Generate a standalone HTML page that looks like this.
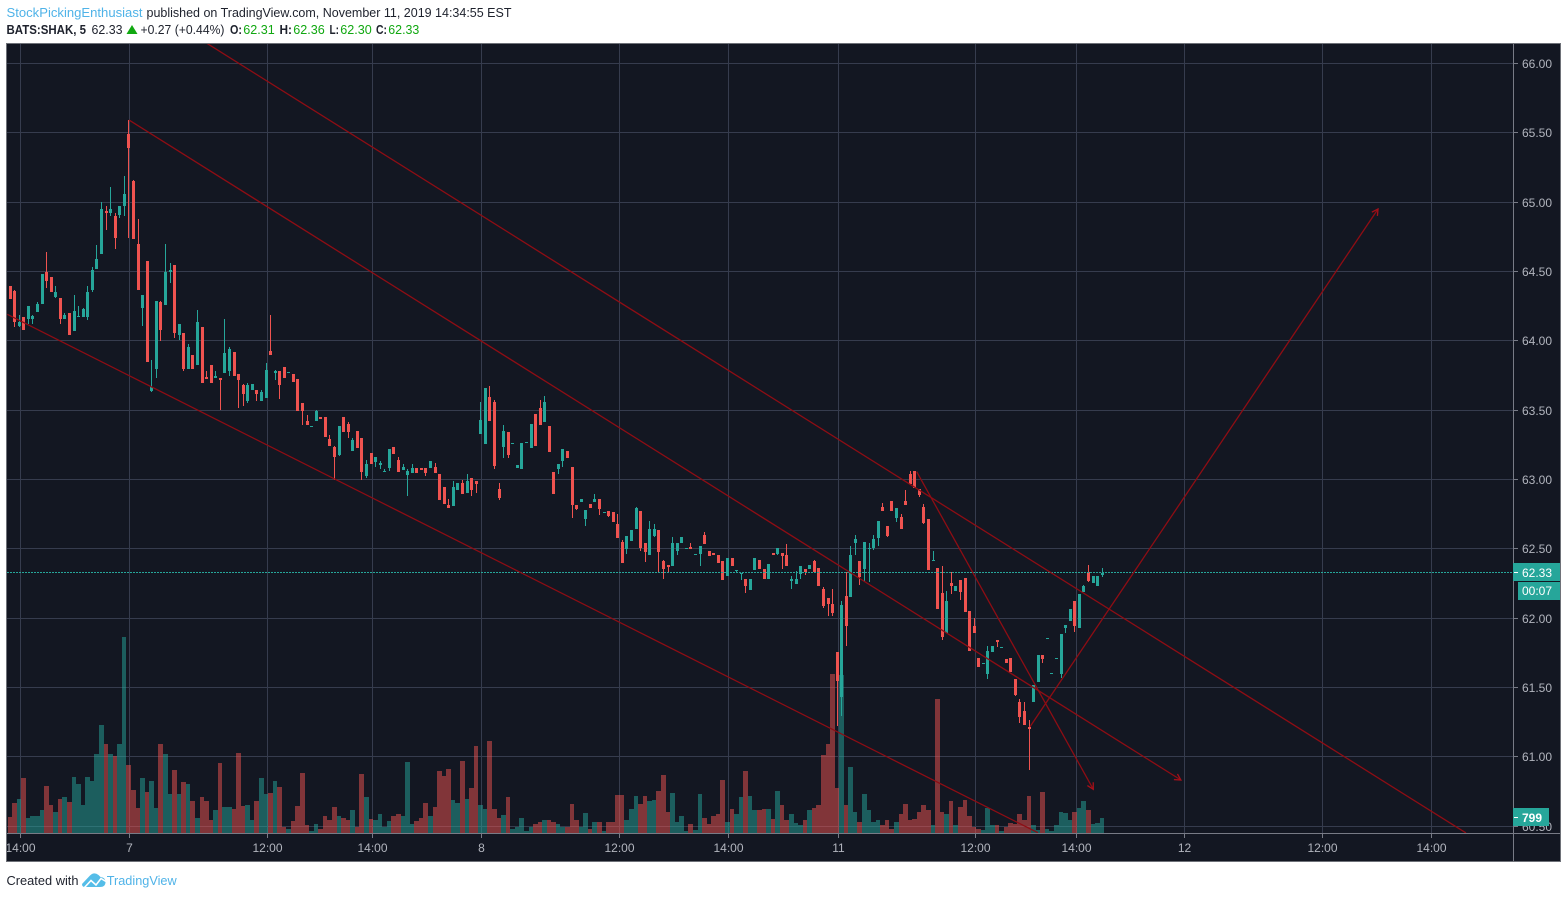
<!DOCTYPE html>
<html lang="en">
<head>
<meta charset="utf-8">
<title>BATS:SHAK 5 minute chart</title>
<style>
html,body{margin:0;padding:0;background:#fff;width:1567px;height:898px;overflow:hidden}
svg{display:block;font-family:"Liberation Sans",sans-serif}
</style>
</head>
<body>
<svg id="chart" xmlns="http://www.w3.org/2000/svg" width="1567" height="898" viewBox="0 0 1567 898">
  <g font-size="13">
    <text x="6.5" y="17" fill="#4fb3e8" textLength="136" lengthAdjust="spacingAndGlyphs">StockPickingEnthusiast</text>
    <text x="146.5" y="17" fill="#1e222d" textLength="365" lengthAdjust="spacingAndGlyphs">published on TradingView.com, November 11, 2019 14:34:55 EST</text>
    <text x="6.5" y="34" fill="#1e222d" font-weight="bold" textLength="79.5" lengthAdjust="spacingAndGlyphs">BATS:SHAK, 5</text>
    <text x="91.5" y="34" fill="#1e222d" textLength="31" lengthAdjust="spacingAndGlyphs">62.33</text>
    <polygon points="132,25 137.5,34 126.5,34" fill="#11a811"/>
    <text x="140.5" y="34" fill="#1e222d" textLength="84" lengthAdjust="spacingAndGlyphs">+0.27 (+0.44%)</text>
    <text x="230" y="34" fill="#1e222d" font-weight="bold" textLength="12" lengthAdjust="spacingAndGlyphs">O:</text>
    <text x="243.3" y="34" fill="#11a811" textLength="31.5" lengthAdjust="spacingAndGlyphs">62.31</text>
    <text x="279.5" y="34" fill="#1e222d" font-weight="bold" textLength="12.5" lengthAdjust="spacingAndGlyphs">H:</text>
    <text x="293.3" y="34" fill="#11a811" textLength="31.5" lengthAdjust="spacingAndGlyphs">62.36</text>
    <text x="329.5" y="34" fill="#1e222d" font-weight="bold" textLength="9.5" lengthAdjust="spacingAndGlyphs">L:</text>
    <text x="340.3" y="34" fill="#11a811" textLength="31.5" lengthAdjust="spacingAndGlyphs">62.30</text>
    <text x="376" y="34" fill="#1e222d" font-weight="bold" textLength="11" lengthAdjust="spacingAndGlyphs">C:</text>
    <text x="388.3" y="34" fill="#11a811" textLength="31" lengthAdjust="spacingAndGlyphs">62.33</text>
  </g>

  <rect x="6.5" y="43.5" width="1554" height="818" fill="#131722" stroke="#6e7178" stroke-width="1"/>

  <defs>
    <clipPath id="pane-clip"><rect x="7" y="44" width="1506" height="789"/></clipPath>
    <clipPath id="time-clip"><rect x="7" y="834" width="1506" height="27"/></clipPath>
  </defs>

  <g id="grid" shape-rendering="crispEdges"></g>
  <g id="volume" clip-path="url(#pane-clip)" shape-rendering="crispEdges"></g>
  <g id="candles" clip-path="url(#pane-clip)" shape-rendering="crispEdges"></g>
  <line id="last-price-line" x1="7" x2="1513" stroke="#26a69a" stroke-width="1" stroke-dasharray="2 1" shape-rendering="crispEdges"/>
  <g id="drawings" clip-path="url(#pane-clip)"></g>

  <rect x="1513" y="44" width="1" height="817" fill="#787b86" shape-rendering="crispEdges"/>
  <rect x="7" y="833" width="1553" height="1" fill="#787b86" shape-rendering="crispEdges"/>
  <g id="price-axis" font-size="12" fill="#b2b5be"></g>
  <g id="time-axis" font-size="12" fill="#b2b5be" clip-path="url(#time-clip)"></g>

  <g>
    <rect x="1513" y="563" width="47" height="18" fill="#26a69a" shape-rendering="crispEdges"/>
    <rect x="1514" y="572" width="4" height="1" fill="#fff" shape-rendering="crispEdges"/>
    <text x="1522" y="577" font-size="12" fill="#fff">62.33</text>
    <rect x="1518" y="582" width="42" height="18" fill="#26a69a" shape-rendering="crispEdges"/>
    <text x="1522" y="595" font-size="12" fill="#fff">00:07</text>
  </g>
  <g>
    <rect x="1513" y="808" width="36" height="18" fill="#26a69a" shape-rendering="crispEdges"/>
    <rect x="1514" y="817" width="4" height="1" fill="#fff" shape-rendering="crispEdges"/>
    <text x="1522" y="822" font-size="12" font-weight="bold" fill="#fff">799</text>
  </g>

  <g>
    <text x="6.5" y="885" font-size="13" fill="#1e222d" textLength="72" lengthAdjust="spacingAndGlyphs">Created with</text>
    <g>
      <path d="M82 884 L90 875.5 Q94 871.5 98.5 875 L100.5 877 Q105.5 877.5 105.5 882 Q105.5 887 100 887 L85 887 Q82 887 82 884 Z" fill="#55bde8"/>
      <polyline points="84,888 91,880.5 96,885 101,878.5 106,881.5" fill="none" stroke="#fff" stroke-width="1.6"/>
    </g>
    <text x="106.7" y="885" font-size="13" fill="#4fb3e8" textLength="70" lengthAdjust="spacingAndGlyphs">TradingView</text>
  </g>
</svg>

<script>
const opens = [
64.40,64.36,64.11,64.17,64.16,64.16,64.21,64.27,64.50,64.46,
64.32,64.31,64.16,64.20,64.07,64.17,64.17,64.17,64.37,64.52,
64.63,64.94,64.92,64.90,64.91,64.97,65.49,65.15,64.70,64.24,
64.58,63.64,63.80,64.28,64.26,64.50,64.55,64.04,64.06,63.80,
63.90,63.83,64.10,63.74,63.83,63.73,63.73,63.77,63.78,63.92,
63.76,63.68,63.565,63.645,63.645,63.57,63.59,63.93,63.77,63.78,
63.81,63.77,63.76,63.725,63.55,63.42,63.385,63.42,63.45,63.45,
63.29,63.235,63.18,63.45,63.40,63.21,63.35,63.30,63.025,63.19,
63.125,63.105,63.055,63.085,63.235,63.14,63.07,63.03,63.047,63.083,
63.083,63.083,63.083,63.09,63.04,62.946,62.816,62.809,62.925,62.975,
62.903,63.01,62.99,63.329,63.257,63.596,63.56,62.932,63.235,63.343,
63.26,63.083,63.076,63.268,63.228,63.473,63.517,63.415,63.387,63.054,
63.076,63.132,63.205,63.089,62.815,62.836,62.714,62.822,62.836,62.858,
62.769,62.771,62.764,62.677,62.547,62.497,62.555,62.641,62.771,62.54,
62.454,62.591,62.634,62.41,62.381,62.374,62.482,62.54,62.509,62.511,
62.466,62.461,62.598,62.482,62.468,62.454,62.41,62.302,62.432,62.35,
62.323,62.287,62.201,62.345,62.417,62.352,62.28,62.468,62.461,62.468,
62.454,62.266,62.251,62.316,62.352,62.352,62.41,62.36,62.208,62.143,
62.10,61.754,61.436,62.158,62.151,62.541,62.41,62.353,62.50,62.505,
62.577,62.80,62.663,62.844,62.721,62.728,62.844,63.039,63.06,62.931,
62.80,62.714,62.41,62.36,62.18,61.891,62.252,62.194,62.273,62.288,
62.05,61.941,61.717,61.678,61.602,61.754,61.84,61.795,61.703,61.717,
61.559,61.40,61.328,61.219,61.40,61.544,61.739,61.859,61.607,61.715,
61.595,61.927,61.977,62.122,61.927,62.187,62.331,62.252,62.23,62.31
];
const highs = [
64.40,64.37,64.19,64.17,64.25,64.19,64.28,64.48,64.64,64.46,
64.40,64.31,64.20,64.20,64.33,64.25,64.24,64.40,64.53,64.69,
65.00,64.97,65.11,64.92,64.97,65.19,65.59,65.16,64.88,64.33,
64.58,63.86,64.29,64.29,64.70,64.56,64.55,64.12,64.06,63.98,
63.90,64.22,64.10,63.78,63.83,63.78,63.73,64.16,63.96,63.92,
63.76,63.69,63.70,63.69,63.65,63.65,63.84,64.19,63.79,63.78,
63.81,63.775,63.76,63.725,63.55,63.465,63.385,63.50,63.45,63.45,
63.32,63.24,63.385,63.45,63.415,63.30,63.35,63.30,63.14,63.19,
63.16,63.135,63.075,63.22,63.235,63.16,63.11,63.075,63.11,63.083,
63.083,63.083,63.134,63.12,63.04,62.946,62.86,62.99,62.975,63.0,
63.04,63.01,62.99,63.56,63.661,63.675,63.575,62.975,63.394,63.343,
63.262,63.105,63.264,63.27,63.401,63.473,63.574,63.60,63.387,63.054,
63.112,63.219,63.205,63.089,62.815,62.858,62.779,62.822,62.9,62.858,
62.77,62.771,62.764,62.75,62.562,62.591,62.634,62.80,62.771,62.54,
62.699,62.677,62.634,62.417,62.381,62.584,62.54,62.584,62.51,62.54,
62.466,62.519,62.62,62.482,62.468,62.454,62.41,62.432,62.432,62.35,
62.325,62.287,62.28,62.432,62.417,62.352,62.389,62.468,62.504,62.468,
62.533,62.302,62.338,62.374,62.352,62.381,62.417,62.36,62.223,62.15,
62.208,61.754,62.122,62.331,62.519,62.598,62.41,62.548,62.541,62.598,
62.70,62.83,62.663,62.844,62.793,62.75,62.923,63.06,63.06,62.931,
62.822,62.714,62.483,62.36,62.375,62.194,62.331,62.23,62.273,62.288,
62.05,61.999,61.717,61.68,61.797,61.797,61.84,61.795,61.703,61.717,
61.559,61.421,61.393,61.27,61.522,61.732,61.739,61.859,61.607,61.715,
61.884,61.949,62.064,62.122,62.172,62.237,62.382,62.302,62.302,62.36
];
const lows = [
64.30,64.10,64.10,64.08,64.12,64.12,64.21,64.27,64.38,64.35,
64.31,64.12,64.16,64.04,64.07,64.17,64.17,64.15,64.35,64.52,
64.63,64.80,64.90,64.66,64.89,64.90,64.74,64.735,64.37,64.11,
63.85,63.63,63.73,64.00,64.26,64.42,64.02,64.01,63.78,63.80,
63.80,63.83,63.70,63.725,63.70,63.73,63.50,63.77,63.75,63.75,
63.52,63.53,63.55,63.645,63.57,63.57,63.59,63.90,63.72,63.58,
63.73,63.77,63.705,63.495,63.395,63.395,63.385,63.42,63.44,63.31,
63.24,63.0,63.17,63.34,63.30,63.21,63.23,63.0,63.01,63.11,
63.09,63.075,63.055,63.06,63.185,63.055,63.07,62.88,63.047,63.047,
63.07,63.025,63.083,63.047,62.85,62.823,62.795,62.809,62.925,62.895,
62.903,62.88,62.903,63.329,63.257,63.423,63.076,62.852,63.156,63.156,
63.26,63.083,63.076,63.268,63.228,63.242,63.394,63.415,63.199,62.896,
63.04,63.089,63.154,62.72,62.778,62.836,62.663,62.793,62.836,62.742,
62.769,62.728,62.692,62.576,62.396,62.461,62.555,62.641,62.482,62.403,
62.454,62.584,62.328,62.28,62.328,62.374,62.454,62.54,62.509,62.497,
62.466,62.374,62.533,62.446,62.454,62.396,62.273,62.302,62.374,62.328,
62.273,62.179,62.201,62.345,62.352,62.28,62.28,62.454,62.454,62.352,
62.374,62.208,62.251,62.287,62.309,62.352,62.331,62.23,62.071,62.014,
62.014,61.226,61.299,61.797,62.151,62.454,62.237,62.259,62.259,62.49,
62.519,62.772,62.584,62.772,62.692,62.642,62.815,62.967,62.938,62.873,
62.678,62.346,62.41,62.064,61.847,61.891,62.172,62.194,62.129,62.042,
61.761,61.891,61.652,61.678,61.559,61.754,61.79,61.795,61.681,61.616,
61.443,61.248,61.234,60.909,61.40,61.544,61.681,61.859,61.607,61.715,
61.573,61.891,61.977,61.898,61.927,62.187,62.259,62.252,62.23,62.30
];
const closes = [
64.30,64.14,64.14,64.08,64.25,64.18,64.27,64.48,64.43,64.35,
64.35,64.16,64.19,64.04,64.215,64.18,64.23,64.35,64.51,64.59,
64.95,64.92,64.95,64.74,64.97,65.06,65.39,64.735,64.37,64.33,
63.85,63.67,64.29,64.08,64.50,64.51,64.06,64.12,63.80,63.955,
63.80,64.14,63.70,63.725,63.70,63.75,63.72,63.91,63.94,63.75,
63.72,63.62,63.68,63.69,63.615,63.63,63.79,63.90,63.78,63.68,
63.73,63.775,63.705,63.495,63.495,63.395,63.385,63.495,63.44,63.31,
63.24,63.16,63.385,63.34,63.34,63.285,63.23,63.055,63.11,63.11,
63.16,63.12,63.06,63.22,63.185,63.055,63.09,63.06,63.083,63.047,
63.07,63.047,63.134,63.047,62.85,62.823,62.795,62.946,62.975,62.895,
62.99,62.925,62.968,63.43,63.661,63.423,63.098,62.867,63.35,63.177,
63.262,63.105,63.264,63.27,63.401,63.242,63.394,63.56,63.199,62.896,
63.112,63.219,63.154,62.815,62.786,62.858,62.779,62.793,62.858,62.786,
62.77,62.735,62.692,62.576,62.396,62.591,62.634,62.793,62.504,62.475,
62.641,62.641,62.475,62.352,62.367,62.54,62.54,62.584,62.51,62.497,
62.466,62.519,62.533,62.446,62.454,62.396,62.273,62.432,62.374,62.35,
62.325,62.23,62.28,62.432,62.352,62.28,62.389,62.454,62.504,62.446,
62.374,62.28,62.287,62.374,62.331,62.381,62.331,62.23,62.086,62.10,
62.035,61.551,62.093,61.941,62.454,62.57,62.295,62.548,62.505,62.57,
62.70,62.772,62.591,62.772,62.793,62.642,62.815,62.967,62.938,62.887,
62.685,62.346,62.418,62.064,61.862,62.122,62.23,62.23,62.187,62.042,
61.761,61.891,61.652,61.68,61.761,61.797,61.826,61.795,61.681,61.616,
61.45,61.291,61.234,61.205,61.522,61.732,61.71,61.859,61.607,61.715,
61.884,61.949,62.064,61.941,62.172,62.23,62.266,62.302,62.302,62.33
];
const volumes = [
882,1638,1854,2988,828,936,936,1260,2556,1530,
1152,1854,1962,1692,3042,2664,1530,3042,2826,4284,
5850,4824,4284,4176,4824,10602,3690,2340,1368,2988,
2232,2826,1368,4824,4284,2124,3420,2124,2772,2664,
1746,828,1962,1746,720,1260,3798,1422,1422,1314,
4338,1476,1530,720,1746,2988,2124,2178,2826,2502,
324,234,666,1476,3258,450,126,504,234,936,
720,1422,936,828,720,1260,342,3204,1962,774,
720,1044,342,666,936,1044,936,3852,504,666,
828,1638,936,1422,3366,3096,3474,1800,1638,3906,
1854,2448,4716,1530,1314,4986,1314,828,990,1962,
234,342,828,126,342,504,612,720,720,612,
504,342,342,1584,720,342,1098,234,612,612,
126,612,612,2070,2070,720,1314,2016,1584,2016,
1746,1800,2286,3150,1152,2178,612,936,126,504,
180,2124,828,504,936,1044,2880,612,1314,1044,
1962,3366,2016,1260,1260,1314,1314,774,2286,1530,
720,1044,558,450,720,1260,1368,1530,4230,4824,
8604,2448,8550,1530,3582,1152,612,2124,1260,612,
720,450,720,234,612,1044,1584,720,774,1152,
1530,1260,450,7254,1152,1044,1746,450,1422,1800,
936,342,234,180,1368,450,450,126,342,558,
504,1044,720,2016,450,180,2232,234,126,450,
1152,1098,720,1152,1368,1746,1260,504,558,799
];
const priceTicks = [66,65.5,65,64.5,64,63.5,63,62.5,62,61.5,61,60.5];
const timeTickLabels = ["14:00","7","12:00","14:00","8","12:00","14:00","11","12:00","14:00","12","12:00","14:00"];
const timeTickBars = [2.19,26.04,56.25,79.23,103.09,133.29,157.14,181.22,211.2,233.3,257.1,287.3,311.1];
const lastPrice = 62.33;
const trendStartBars = [26,40,-0.66,198.38,223.18];
const trendStartPrices = [65.593,66.209,64.192,63.057,61.218];
const trendEndBars = [256.2,318.6,224.9,237.03,299.35];
const trendEndPrices = [60.834,60.452,60.454,60.767,64.952];
const trendHasArrow = [true,false,false,true,true];

const UP = "#26a69a", DOWN = "#ef5350", TREND = "#8e0d14", GRID = "#363c4e";
const NS = "http://www.w3.org/2000/svg";
function xOfBar(i){ return 10.3 + 4.569 * i; }
function pixelOfBar(i){ return Math.floor(10.15 + 4.569 * i); }
function yOfPrice(p){ return 202.3 + (65 - p) * 138.67; }
function heightOfVolume(v){ return v / 54; }
function make(tag, attrs, parent){
  const el = document.createElementNS(NS, tag);
  for (const k in attrs) el.setAttribute(k, attrs[k]);
  parent.appendChild(el);
  return el;
}

const gridG = document.getElementById("grid");
const priceG = document.getElementById("price-axis");
const timeG = document.getElementById("time-axis");
const volG = document.getElementById("volume");
const candleG = document.getElementById("candles");
const drawG = document.getElementById("drawings");

priceTicks.forEach(function(p){
  const y = Math.floor(yOfPrice(p));
  const line = make("rect", {x:7, y:y, width:1506, height:1, fill:GRID}, gridG);
  
  
  const tick = make("rect", {x:1514, y:y, width:4, height:1, fill:"#787b86", "shape-rendering":"crispEdges"}, priceG);
  
  
  const label = make("text", {x:1522, y:y + 5}, priceG);
  label.textContent = p.toFixed(2);
  
  
});

timeTickBars.forEach(function(b, n){
  const x = Math.floor(xOfBar(b));
  const line = make("rect", {x:x, y:44, width:1, height:789, fill:GRID}, gridG);
  
  
  const tick = make("rect", {x:x, y:834, width:1, height:4, fill:"#787b86", "shape-rendering":"crispEdges"}, timeG);
  
  
  const label = make("text", {x:x + 0.5, y:852, "text-anchor":"middle"}, timeG);
  label.textContent = timeTickLabels[n];
  
  
});

volumes.forEach(function(v, i){
  const left = pixelOfBar(i) - 2;
  const right = pixelOfBar(i + 1) - 2;
  const h = Math.max(1, Math.round(heightOfVolume(v)));
  const up = closes[i] >= opens[i];
  const bar = make("rect", {x:left, y:833 - h, width:right - left, height:h, fill:up ? UP : DOWN, "fill-opacity":0.5}, volG);
  
  
});

opens.forEach(function(o, i){
  const c = closes[i];
  const up = c >= o;
  const px = pixelOfBar(i);
  const color = up ? UP : DOWN;
  const wickTop = Math.round(yOfPrice(highs[i]));
  const wickBottom = Math.round(yOfPrice(lows[i]));
  const wick = make("rect", {x:px, y:wickTop, width:1, height:Math.max(1, wickBottom - wickTop), fill:color}, candleG);
  
  
  const bodyTop = Math.round(yOfPrice(Math.max(o, c)));
  const bodyBottom = Math.round(yOfPrice(Math.min(o, c)));
  const body = make("rect", {x:px - 1, y:bodyTop, width:3, height:Math.max(1, bodyBottom - bodyTop), fill:color}, candleG);
  
  
});

const lastLine = document.getElementById("last-price-line");
lastLine.setAttribute("y1", Math.floor(yOfPrice(lastPrice)) + 0.5);
lastLine.setAttribute("y2", Math.floor(yOfPrice(lastPrice)) + 0.5);

trendStartBars.forEach(function(b, n){
  const x1 = xOfBar(b), y1 = yOfPrice(trendStartPrices[n]);
  const x2 = xOfBar(trendEndBars[n]), y2 = yOfPrice(trendEndPrices[n]);
  const line = make("line", {x1:x1, y1:y1, x2:x2, y2:y2, stroke:TREND, "stroke-width":1.3}, drawG);
  
  
  if (trendHasArrow[n]) {
    const a = Math.atan2(y2 - y1, x2 - x1);
    const len = 7;
    const p1 = (x2 - len * Math.cos(a - 0.5)) + "," + (y2 - len * Math.sin(a - 0.5));
    const p2 = (x2 - len * Math.cos(a + 0.5)) + "," + (y2 - len * Math.sin(a + 0.5));
    const head = make("polyline", {points:p1 + " " + x2 + "," + y2 + " " + p2, fill:"none", stroke:"#a5101a", "stroke-width":1.3}, drawG);
    
    
  }
});
</script>
</body>
</html>
